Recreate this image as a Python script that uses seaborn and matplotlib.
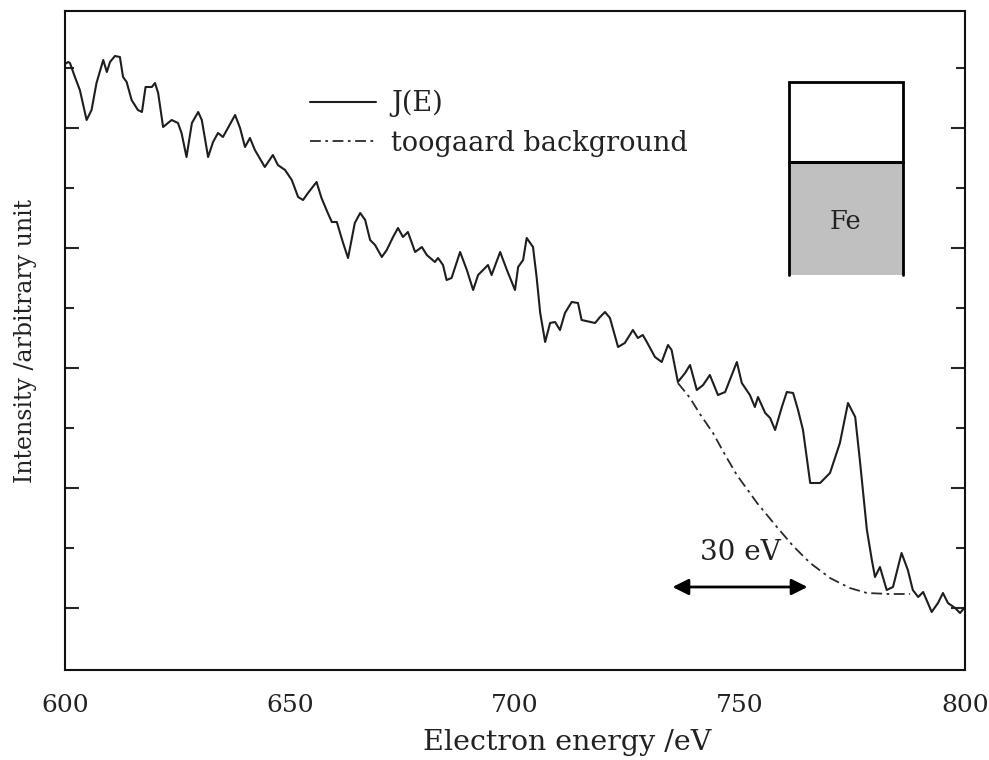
import numpy as np
import pandas as pd
import matplotlib
matplotlib.use("Agg")
import matplotlib.pyplot as plt
from matplotlib.patches import Rectangle
import seaborn as sns

# ---- data ----
energy = [600.0, 600.7, 601.1, 602.2, 603.3, 604.8, 605.9, 607.0, 608.5, 609.3,
          610.0, 611.1, 612.2, 612.9, 613.7, 614.8, 616.2, 617.1, 617.9, 619.3,
          620.0, 620.7, 621.8, 623.7, 625.1, 625.9, 627.0, 628.2, 629.6, 630.4,
          631.8, 632.9, 634.0, 635.1, 636.2, 637.8, 638.9, 640.0, 641.1, 642.2,
          644.4, 646.2, 647.3, 648.9, 650.4, 651.8, 652.9, 654.0, 655.9, 657.0,
          658.4, 659.3, 660.4, 661.8, 662.9, 664.4, 665.6, 666.7, 667.8, 668.9,
          670.4, 671.5, 672.9, 674.0, 675.1, 676.2, 677.8, 679.3, 680.4, 682.2,
          682.9, 684.0, 684.8, 685.9, 687.8, 689.3, 690.7, 691.8, 694.0, 694.8,
          696.7, 698.2, 700.0, 700.7, 701.8, 702.6, 704.0, 704.8, 705.6, 706.7,
          707.8, 708.9, 710.0, 711.1, 712.6, 714.0, 714.8, 717.8, 718.9, 720.0,
          721.1, 722.9, 724.4, 726.2, 727.3, 728.4, 729.3, 731.1, 732.6, 734.0,
          734.8, 736.2, 737.8, 738.9, 740.4, 741.8, 743.3, 745.1, 746.7, 749.3,
          750.4, 752.2, 753.3, 754.0, 755.6, 756.7, 757.8, 759.3, 760.4, 761.8,
          762.9, 764.0, 765.6, 767.8, 770.0, 772.2, 774.0, 775.6, 776.7, 778.2,
          779.3, 780.0, 781.1, 782.6, 784.0, 785.9, 787.3, 788.4, 789.6, 790.7,
          792.6, 794.0, 795.1, 796.2, 797.8, 798.9, 800.0]
intensity = [664, 666, 665, 651, 638, 608, 618, 645, 668, 656,
             666, 672, 671, 651, 646, 628, 618, 616, 641, 641,
             645, 635, 601, 608, 605, 595, 571, 605, 616, 608,
             571, 586, 595, 591, 600, 613, 600, 581, 590, 578,
             561, 573, 563, 558, 548, 531, 528, 535, 546, 530,
             515, 506, 506, 485, 470, 505, 515, 508, 488, 483,
             471, 478, 491, 500, 491, 496, 476, 481, 473, 466,
             470, 463, 448, 450, 476, 458, 438, 453, 463, 453,
             476, 458, 438, 461, 468, 490, 481, 451, 415, 386,
             405, 406, 398, 415, 426, 425, 408, 405, 411, 416,
             410, 381, 385, 398, 390, 393, 386, 371, 366, 383,
             378, 346, 355, 363, 338, 343, 353, 333, 336, 366,
             345, 333, 321, 331, 315, 310, 298, 321, 336, 335,
             318, 298, 245, 245, 255, 285, 325, 311, 265, 198,
             168, 151, 161, 138, 141, 175, 158, 138, 131, 136,
             116, 125, 135, 125, 120, 115, 121]

bg_energy = [736.2, 738.9, 741.1, 744.0, 746.7, 749.3, 753.8, 758.2, 761.8,
             765.6, 770.0, 774.4, 778.2, 783.3, 787.8]
bg_intensity = [345, 330, 314, 295, 273, 253, 225, 201, 182,
                165, 150, 140, 135, 134, 134]

series_labels = ["J(E)", "toogaard background"]
x_ticks = [600, 650, 700, 750, 800]

# annotation geometry
arrow_from, arrow_to, arrow_level = 735, 765, 141
arrow_text = "30 eV"
fe_left, fe_right = 760.9, 786.2
fe_bottom, fe_mid, fe_top = 453, 566, 646

df = pd.DataFrame({"E": energy, "I": intensity})
df_bg = pd.DataFrame({"E": bg_energy, "I": bg_intensity})

sns.set_theme(style="white")
plt.rcParams["font.family"] = ["DejaVu Serif"]

fig = plt.figure(figsize=(9.89, 7.60), dpi=100)
ax = fig.add_axes([65/989, 1-670/760, 900/989, 659/760])

sns.lineplot(data=df, x="E", y="I", ax=ax, color="#1e1e1e", lw=1.5,
             label=series_labels[0], sort=False)
sns.lineplot(data=df_bg, x="E", y="I", ax=ax, color="#2a2a2a", lw=1.3,
             linestyle=(0, (6, 2.5, 1.5, 2.5)), label=series_labels[1], sort=False)

ax.set_xlim(600, 800)
ax.set_ylim(58, 717)
ax.set_xticks(x_ticks)
ax.set_xticks([625, 675, 725, 775], minor=True)
ax.set_yticks([120, 240, 360, 480, 600])
ax.set_yticks([180, 300, 420, 540, 660], minor=True)
ax.set_yticklabels([])
ax.tick_params(axis="x", which="major", direction="out", length=9, width=1.5,
               labelsize=18, pad=8, colors="#222222")
ax.tick_params(axis="x", which="minor", direction="out", length=5, width=1.5)
ax.tick_params(axis="y", which="major", direction="in", length=10, width=1.5,
               left=True, right=True)
ax.tick_params(axis="y", which="minor", direction="in", length=6.5, width=1.5,
               left=True, right=True)
for s in ax.spines.values():
    s.set_linewidth(1.5)
    s.set_color("#111111")

ax.set_xlabel("Electron energy /eV", fontsize=20.5, color="#222222")
ax.xaxis.label.set_va("center")
ax.xaxis.set_label_coords(0.558, -0.110)
ax.set_ylabel("Intensity /arbitrary unit", fontsize=17, color="#222222", labelpad=17)

leg = ax.legend(loc="upper left", bbox_to_anchor=(0.272, 0.880), frameon=False,
                fontsize=19.5, handlelength=2.45, handletextpad=0.55,
                labelspacing=0.46, borderpad=0, borderaxespad=0)
for t in leg.get_texts():
    t.set_color("#222222")

# Fe inset drawing
ax.add_patch(Rectangle((fe_left, fe_bottom), fe_right - fe_left, fe_mid - fe_bottom,
                       facecolor="#c0c0c0", edgecolor="none", zorder=1))
ax.plot([fe_left, fe_left, fe_right, fe_right], [fe_bottom, fe_top, fe_top, fe_bottom],
        color="black", lw=2, solid_joinstyle="miter")
ax.plot([fe_left, fe_right], [fe_mid, fe_mid], color="black", lw=2.2)
ax.text((fe_left + fe_right) / 2, (fe_bottom + fe_mid) / 2 - 3, "Fe",
        ha="center", va="center", fontsize=18.5, color="#222222")

# 30 eV arrow
ax.annotate("", xy=(arrow_from, arrow_level), xytext=(arrow_to, arrow_level),
            arrowprops=dict(arrowstyle="<|-|>", mutation_scale=24, lw=2,
                            color="black", shrinkA=0, shrinkB=0))
ax.text((arrow_from + arrow_to) / 2, arrow_level + 34, arrow_text,
        ha="center", va="center", fontsize=20, color="#222222")

fig.savefig("out.png", dpi=100)
